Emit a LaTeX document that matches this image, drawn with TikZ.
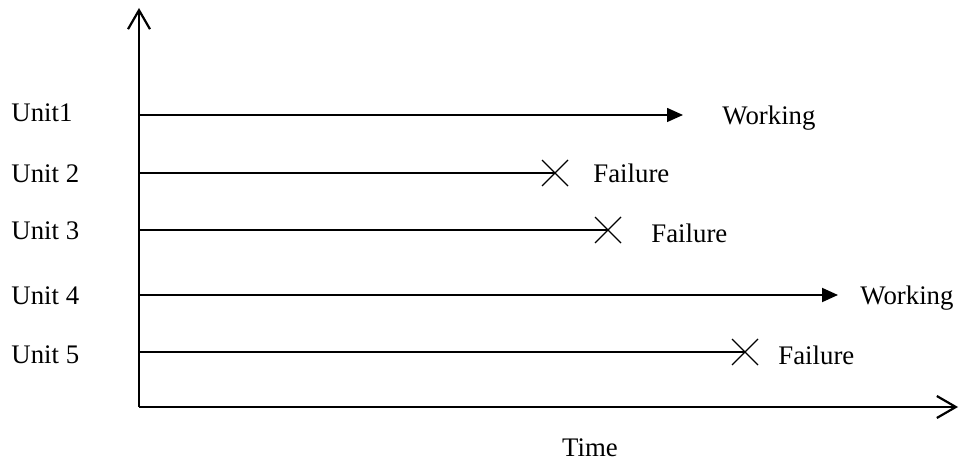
\documentclass[tikz,border=0pt]{standalone}
\usepackage{fontspec}
\setmainfont{Liberation Serif}
\usetikzlibrary{arrows.meta}
\begin{document}
\begin{tikzpicture}[x=0.5pt,y=-0.5pt,
  lbl/.style={anchor=base west,inner sep=0pt,font=\fontsize{13.4}{16}\selectfont},
  axis/.style={line width=1pt,-{Straight Barb[length=9.5pt,width=11pt,line width=1.1pt]}},
  run/.style={line width=0.75pt,-{Triangle[length=8pt,width=7pt]}},
  stop/.style={line width=0.7pt},
  cross/.style={line width=0.65pt}]
\useasboundingbox (0,0) rectangle (959,464);
% axes
\coordinate (O) at (139,407);
\coordinate (ytip) at (139,8);
\coordinate (xtip) at (958,407);
\draw[axis] (O) -- (ytip);
\draw[axis] (O) -- (xtip);
% unit rows
\coordinate (s1) at (139,115); \coordinate (e1) at (683,115);
\coordinate (s2) at (139,173); \coordinate (e2) at (555,173);
\coordinate (s3) at (139,230); \coordinate (e3) at (608,230);
\coordinate (s4) at (139,295); \coordinate (e4) at (838,295);
\coordinate (s5) at (139,352); \coordinate (e5) at (745,352);
\node[lbl] (u1) at (11,122) {Unit1};
\node[lbl] (u2) at (11,183) {Unit 2};
\node[lbl] (u3) at (11,240) {Unit 3};
\node[lbl] (u4) at (11,305) {Unit 4};
\node[lbl] (u5) at (11,364) {Unit 5};
\draw[run] (s1) -- (e1);
\draw[stop] (s2) -- (e2);
\draw[stop] (s3) -- (e3);
\draw[run,line width=0.95pt] (s4) -- (e4);
\draw[stop] (s5) -- (e5);
% failure marks
\foreach \c in {e2,e3,e5}{
  \draw[cross] ([shift={(-13,-13)}]\c) -- ([shift={(13,13)}]\c);
  \draw[cross] ([shift={(-13,13)}]\c) -- ([shift={(13,-13)}]\c);
}
\node[lbl] (w1) at (722,125) {Working};
\node[lbl] (f2) at (593,183) {Failure};
\node[lbl] (f3) at (651,243) {Failure};
\node[lbl] (w4) at (860,305) {Working};
\node[lbl] (f5) at (778,365) {Failure};
\node[lbl,anchor=base] (t) at (590,457) {Time};
\end{tikzpicture}
\end{document}
